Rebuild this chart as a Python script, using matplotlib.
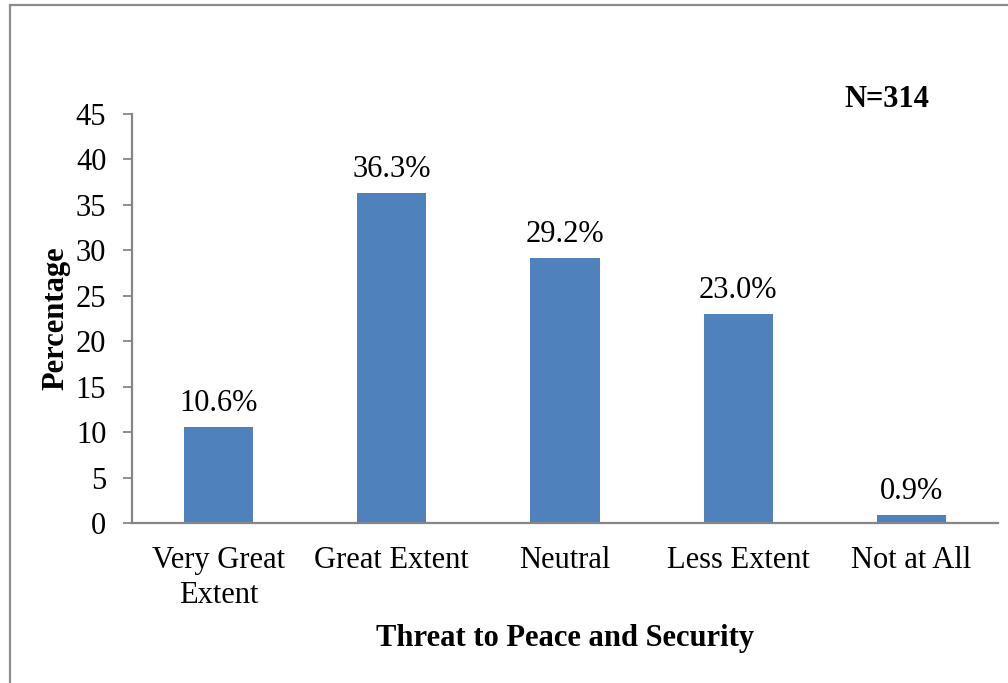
import matplotlib
matplotlib.use("Agg")
import matplotlib.pyplot as plt
from matplotlib.patches import Rectangle

categories = ["Very Great\nExtent", "Great Extent", "Neutral", "Less Extent", "Not at All"]
percentages = [10.6, 36.3, 29.2, 23.0, 0.9]
y_ticks = [0, 5, 10, 15, 20, 25, 30, 35, 40, 45]

plt.rcParams["font.family"] = ["Liberation Serif", "DejaVu Serif"]
FS = 22

fig = plt.figure(figsize=(10.08, 6.83), dpi=100)
ax = fig.add_axes([0.131, 0.2343, 0.859, 0.5988])

x = range(len(categories))
bars = ax.bar(x, percentages, width=0.4, color="#4F81BD", zorder=2)

for b, v in zip(bars, percentages):
    ax.annotate(f"{v:.1f}%", (b.get_x() + b.get_width() / 2, b.get_height()),
                xytext=(0, 6.5), textcoords="offset points",
                ha="center", va="bottom", fontsize=FS)

ax.set_xlim(-0.5, len(categories) - 0.5)
ax.set_ylim(0, 45)
ax.set_yticks(y_ticks)
ax.set_xticks(list(x))
ax.set_xticklabels(categories, fontsize=FS, linespacing=1.28)
ax.tick_params(axis="y", labelsize=FS, length=6.5, width=1.3, color="#868686", pad=12)
ax.tick_params(axis="x", length=0, pad=16.5)

for side in ("top", "right"):
    ax.spines[side].set_visible(False)
for side in ("left", "bottom"):
    ax.spines[side].set_color("#868686")
    ax.spines[side].set_linewidth(1.6)

ax.set_xlabel("Threat to Peace and Security", fontsize=FS, fontweight="bold", labelpad=10)
ax.set_ylabel("Percentage", fontsize=FS, fontweight="bold", labelpad=4)

fig.text(0.88, 0.855, "N=314", fontsize=FS, fontweight="bold", ha="center", va="center")

# outer chart border, running off the right and bottom edges
fig.patches.append(Rectangle((0.0099, -0.2), 1.2, 0.2 + 0.9927,
                             transform=fig.transFigure, fill=False,
                             edgecolor="#8c8c8c", linewidth=1.6, clip_on=False))

fig.savefig("out.png", dpi=100, facecolor="white")
